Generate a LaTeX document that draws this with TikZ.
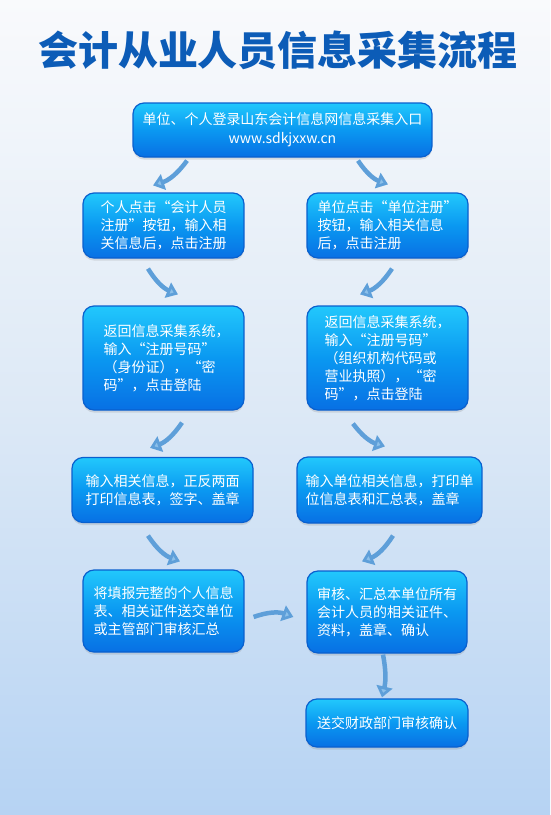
\documentclass[tikz,border=0pt]{standalone}
\usepackage{fontspec}
\usepackage{xcolor}
\usepackage{tikz}
\usetikzlibrary{arrows.meta,shadows}
\newfontfamily\cjk{Noto Sans CJK SC}
\newcommand{\boxfont}{\cjk\fontsize{14}{18}\selectfont}
\definecolor{bgtop}{HTML}{F9FAFC}
\definecolor{bgmid}{HTML}{DDE9F6}
\definecolor{bgbot}{HTML}{B6D3F3}
\definecolor{titleblue}{HTML}{0C5CB7}
\definecolor{boxtop}{HTML}{22C8FC}
\definecolor{boxmid}{HTML}{0A98F1}
\definecolor{boxbot}{HTML}{0870E4}
\definecolor{boxedge}{HTML}{0A60CE}
\definecolor{arrowblue}{HTML}{5E9FD9}
\definecolor{arrowhead}{HTML}{8CC0EA}
\tikzset{
  >={Triangle[width=16pt,length=11pt,fill=arrowhead]},
  stepbox/.style ={rectangle, rounded corners=11pt, draw=boxedge, line width=1.2pt,
                   top color=boxtop, bottom color=boxbot, middle color=boxmid,
                   text=white, font=\boxfont, align=left, inner sep=0pt,
                   drop shadow={opacity=0.22, shadow xshift=0pt, shadow yshift=-2.5pt}},
  flow/.style    ={->, draw=arrowblue, line width=4.5pt},
  headline/.style={font=\cjk\bfseries\fontsize{40}{40}\selectfont, text=titleblue,
                   inner sep=0pt},
}
\begin{document}
\begin{tikzpicture}[x=1pt,y=-1pt]
% --- page and title -------------------------------------------------
\fill[top color=bgtop, bottom color=bgbot, middle color=bgmid] (0,0) rectangle (550,815);
\useasboundingbox (0,0) rectangle (550,815);
\node[headline] (head) at (278,50) {会计从业人员信息采集流程};

% --- nodes ----------------------------------------------------------
\node[stepbox, align=center, minimum width=299pt, minimum height=54pt]
  (entry)  at (282.5,130) {单位、个人登录山东会计信息网信息采集入口\\[1pt]www.sdkjxxw.cn};
\node[stepbox, minimum width=161pt, minimum height=65pt]
  (pReg)   at (163.5,225.5) {个人点击“会计人员\\注册”按钮，输入相\\关信息后，点击注册};
\node[stepbox, minimum width=161pt, minimum height=65pt]
  (uReg)   at (387.5,225.5) {单位点击“单位注册”\\按钮，输入相关信息\\后，点击注册};
\node[stepbox, minimum width=161pt, minimum height=104pt]
  (pLogin) at (163.5,358) {\hspace*{6pt}返回信息采集系统，\\\hspace*{6pt}输入“注册号码”\\\hspace*{6pt}（身份证），“密\\\hspace*{6pt}码”，点击登陆};
\node[stepbox, minimum width=161pt, minimum height=104pt]
  (uLogin) at (387.5,358) {返回信息采集系统，\\输入“注册号码”\\（组织机构代码或\\营业执照），“密\\码”，点击登陆};
\node[stepbox, minimum width=181pt, minimum height=65pt]
  (pPrint) at (162.5,490) {输入相关信息，正反两面\\打印信息表，签字、盖章};
\node[stepbox, minimum width=185pt, minimum height=66pt]
  (uPrint) at (389.5,490) {输入单位相关信息，打印单\\位信息表和汇总表，盖章};
\node[stepbox, minimum width=161pt, minimum height=82pt]
  (pSend)  at (163.5,611) {将填报完整的个人信息\\表、相关证件送交单位\\或主管部门审核汇总};
\node[stepbox, minimum width=160pt, minimum height=82pt]
  (uCheck) at (387,612) {审核、汇总本单位所有\\会计人员的相关证件、\\资料，盖章、确认};
\node[stepbox, minimum width=162pt, minimum height=48pt]
  (fin)    at (387,723) {送交财政部门审核确认};

% --- flow -----------------------------------------------------------
\draw[flow] ([xshift=-95.5pt,yshift=-3pt]entry.south) to[bend left=18]
  ([xshift=-10.5pt,yshift=7pt]pReg.north);
\draw[flow] ([xshift=75.5pt,yshift=-3pt]entry.south) to[bend right=18]
  ([xshift=0.5pt,yshift=8pt]uReg.north);
\draw[flow] ([xshift=-15.5pt,yshift=-10pt]pReg.south) to[bend right=18]
  ([xshift=14.5pt,yshift=11pt]pLogin.north);
\draw[flow] ([xshift=4.5pt,yshift=-10pt]uReg.south) to[bend left=18]
  ([xshift=-27.5pt,yshift=11pt]uLogin.north);
\draw[flow] ([xshift=18.5pt,yshift=-12pt]pLogin.south) to[bend left=18]
  ([xshift=-12.5pt,yshift=9pt]pPrint.north);
\draw[flow] ([xshift=-34.5pt,yshift=-13pt]uLogin.south) to[bend right=18]
  ([xshift=-4.5pt,yshift=10pt]uPrint.north);
\draw[flow] ([xshift=-14.5pt,yshift=-12.5pt]pPrint.south) to[bend right=18]
  ([xshift=16.5pt,yshift=8pt]pSend.north);
\draw[flow] ([xshift=3.5pt,yshift=-12pt]uPrint.south) to[bend left=18]
  ([xshift=-25pt,yshift=9pt]uCheck.north);
\draw[flow] ([xshift=9pt,yshift=-6pt]pSend.east) to[bend left=20]
  ([xshift=-13pt,yshift=-5pt]uCheck.west);
\draw[flow] ([xshift=-4pt,yshift=-1pt]uCheck.south) to[bend left=12]
  ([xshift=-5pt,yshift=1pt]fin.north);
\end{tikzpicture}
\end{document}
